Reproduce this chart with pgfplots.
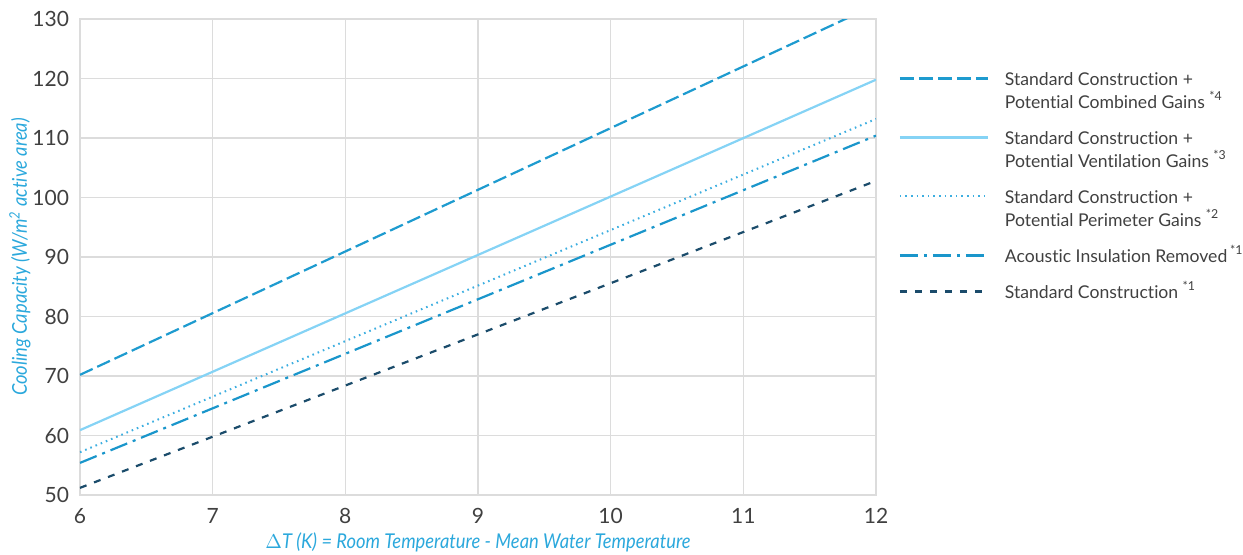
\documentclass[border=0pt]{standalone}
\usepackage{pgfplots}
\pgfplotsset{compat=1.18}
\usepackage{fontspec}
\setmainfont{Lato}[Ligatures={NoCommon}]
\newfontfamily\labelfont[FakeStretch=0.9,Ligatures={NoCommon}]{Lato Italic}
\definecolor{cComb}{HTML}{1E9BCF}
\definecolor{cVent}{HTML}{85D3F5}
\definecolor{cPeri}{HTML}{3DAEE0}
\definecolor{cAcou}{HTML}{1A96CB}
\definecolor{cStd}{HTML}{1B4C6B}
\definecolor{cLab}{HTML}{2BA8DC}
\definecolor{cTxt}{HTML}{404040}
\definecolor{cGrid}{HTML}{DCDCDC}
\newcommand{\firstln}{\rule{0pt}{18pt}\hspace{8pt}}
\newcommand{\secondln}{\rule{0pt}{11.5pt}\hspace{8pt}}
\begin{document}
\begin{tikzpicture}
\useasboundingbox (-40pt,-29.5pt) rectangle (581.5pt,247.5pt);
\begin{axis}[
  scale only axis,
  width=398pt, height=238pt,
  xmin=6, xmax=12, ymin=50, ymax=130,
  xtick={6,...,12}, ytick={50,60,...,130},
  grid=major,
  major grid style={cGrid, line width=0.7pt},
  axis line style={cGrid, line width=0.7pt},
  major tick length=0pt,
  tick label style={font=\fontsize{10.5}{12}\selectfont, text=cTxt},
  /pgf/number format/assume math mode=true,
  xticklabel style={yshift=-3pt},
  yticklabel style={xshift=-2pt},
  xlabel={\labelfont\fontsize{10.2}{12}\selectfont $\Delta$T (K) = Room Temperature - Mean Water Temperature},
  ylabel={\labelfont\fontsize{10.2}{12}\selectfont Cooling Capacity (W/m\textsuperscript{2} active area)},
  xlabel style={text=cLab, yshift=2pt},
  ylabel style={text=cLab, yshift=-6pt},
  legend cell align=left,
  legend style={at={(axis description cs:1.028,0.937)}, anchor=north west,
    draw=none, fill=none, inner sep=0pt, row sep=0pt,
    font=\fontsize{8.8}{11.5}\selectfont, text=cTxt,
    nodes={inner sep=0pt, text depth=0pt},
    cells={anchor=base west}},
  legend image code/.code={\draw[#1] (0pt,3.5pt) -- (44pt,3.5pt);},
  every axis plot/.append style={line width=1.1pt},
]
\addplot[cComb, dash pattern=on 7pt off 2.5pt] coordinates {(6,70.2) (12,132.4)};
\addlegendentry{\firstln Standard Construction +}
\addlegendimage{empty legend}
\addlegendentry{\secondln Potential Combined Gains \textsuperscript{*4}}
\addplot[cVent] coordinates {(6,60.9) (12,119.8)};
\addlegendentry{\firstln Standard Construction +}
\addlegendimage{empty legend}
\addlegendentry{\secondln Potential Ventilation Gains \textsuperscript{*3}}
\addplot[cPeri, line width=1pt, dash pattern=on 0.8pt off 2pt] coordinates {(6,57.2) (12,113.2)};
\addlegendentry{\firstln Standard Construction +}
\addlegendimage{empty legend}
\addlegendentry{\secondln Potential Perimeter Gains \textsuperscript{*2}}
\addplot[cAcou, dash pattern=on 9pt off 3pt on 1.5pt off 3pt] coordinates {(6,55.4) (12,110.4)};
\addlegendentry{\firstln Acoustic Insulation Removed\,\textsuperscript{*1}}
\addplot[cStd, dash pattern=on 3.5pt off 4pt] coordinates {(6,51.2) (12,102.8)};
\addlegendentry{\firstln Standard Construction \textsuperscript{*1}}
\end{axis}
\end{tikzpicture}
\end{document}
